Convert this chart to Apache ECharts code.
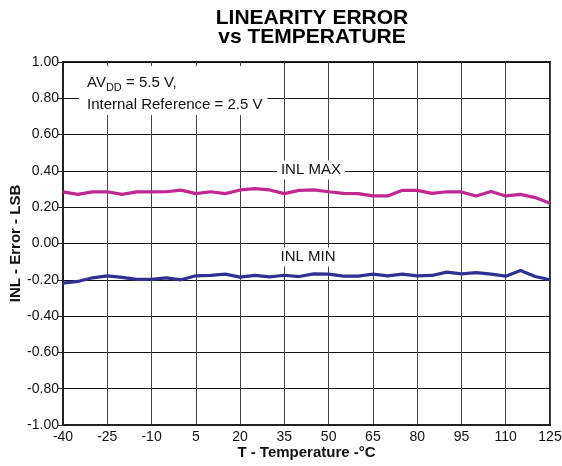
<!DOCTYPE html>
<html><head><meta charset="utf-8">
<script src="https://cdn.jsdelivr.net/npm/echarts@6/dist/echarts.min.js"></script>
<style>html,body{margin:0;padding:0;background:#fff}#c{width:562px;height:466px}</style>
</head><body><div id="c"></div>
<script>
const temps = [-40,-35,-30,-25,-20,-15,-10,-5,0,5,10,15,20,25,30,35,40,45,50,55,60,65,70,75,80,85,90,95,100,105,110,115,120,125];
const inlMax = [0.284,0.271,0.284,0.285,0.271,0.284,0.284,0.285,0.294,0.275,0.285,0.275,0.295,0.302,0.295,0.275,0.293,0.295,0.285,0.276,0.275,0.262,0.262,0.293,0.293,0.276,0.285,0.284,0.262,0.287,0.262,0.271,0.253,0.222];
const inlMin = [-0.218,-0.209,-0.189,-0.178,-0.187,-0.198,-0.198,-0.189,-0.200,-0.178,-0.176,-0.169,-0.185,-0.176,-0.184,-0.175,-0.182,-0.167,-0.169,-0.180,-0.180,-0.169,-0.178,-0.169,-0.178,-0.176,-0.158,-0.167,-0.160,-0.169,-0.180,-0.149,-0.182,-0.200];
const titleLines = ['LINEARITY ERROR', 'vs TEMPERATURE'];
const xName = 'T - Temperature -°C';
const yName = 'INL - Error - LSB';
const FONT = '"Liberation Sans", Arial, Helvetica, sans-serif';

const chart = echarts.init(document.getElementById('c'), null, {renderer: 'canvas'});
const pairs = (ys) => temps.map((t, i) => [t, ys[i]]);
const fmtY = (v) => (Math.abs(v) < 1e-9 ? 0 : v).toFixed(2);

chart.setOption({
  animation: false,
  backgroundColor: '#fff',
  textStyle: {fontFamily: FONT},
  grid: {left: 63, right: 12, top: 62, bottom: 41, containLabel: false, outerBoundsMode: 'none',
    show: true, borderColor: '#222', borderWidth: 2},
  xAxis: {
    type: 'value', min: -40, max: 125, interval: 15,
    name: xName, nameLocation: 'middle', nameGap: 20, nameMoveOverlap: false,
    nameTextStyle: {fontFamily: FONT, fontSize: 15, fontWeight: 'bold', color: '#111'},
    axisLine: {show: true, onZero: false, lineStyle: {color: '#222', width: 2}},
    axisTick: {show: false},
    axisLabel: {fontFamily: FONT, fontSize: 14, color: '#111', margin: 5},
    splitLine: {show: true, lineStyle: {color: '#444', width: 1}}
  },
  yAxis: {
    type: 'value', min: -1, max: 1, interval: 0.2,
    name: yName, nameLocation: 'middle', nameGap: 40, nameMoveOverlap: false,
    nameTextStyle: {fontFamily: FONT, fontSize: 15, fontWeight: 'bold', color: '#111'},
    axisLine: {show: true, onZero: false, lineStyle: {color: '#222', width: 2}},
    axisTick: {show: true, length: 5, lineStyle: {color: '#222', width: 1}},
    axisLabel: {fontFamily: FONT, fontSize: 14, color: '#111', margin: 4, formatter: fmtY},
    splitLine: {show: true, lineStyle: {color: '#111', width: 1}}
  },
  graphic: [
    {
      type: 'text', x: 312, y: 9, z: 100,
      style: {text: titleLines.join('\n'), textAlign: 'center', textVerticalAlign: 'top',
        font: 'bold 21px ' + FONT, lineHeight: 19, fill: '#000'}
    },
    {
      type: 'text', x: 79, y: 66, z: 100,
      style: {
        text: '{a|AV}{s|DD}{a| = 5.5 V,}\n{a|Internal Reference = 2.5 V}',
        backgroundColor: '#fff', padding: [2, 5, 3, 8],
        rich: {
          a: {fontFamily: FONT, fontSize: 15, fill: '#111', lineHeight: 22, verticalAlign: 'bottom'},
          s: {fontFamily: FONT, fontSize: 11, fill: '#111', lineHeight: 22, verticalAlign: 'bottom', padding: [0,0,-3,0]}
        }
      }
    }
  ],
  series: [
    {
      name: 'INL MAX', type: 'line', data: pairs(inlMax), showSymbol: false, symbol: 'none',
      lineStyle: {color: '#c0278f', width: 3.2}, itemStyle: {color: '#c0278f'}, z: 5,
      markPoint: {
        symbol: 'rect', symbolSize: 1, itemStyle: {color: 'rgba(0,0,0,0)'},
        label: {show: true, position: 'inside', formatter: 'INL MAX', fontFamily: FONT, fontSize: 15,
          color: '#111', backgroundColor: '#fff', padding: [2, 4]},
        data: [{coord: [44, 0.405]}]
      }
    },
    {
      name: 'INL MIN', type: 'line', data: pairs(inlMin), showSymbol: false, symbol: 'none',
      lineStyle: {color: '#2e3192', width: 3.2}, itemStyle: {color: '#2e3192'}, z: 5,
      markPoint: {
        symbol: 'rect', symbolSize: 1, itemStyle: {color: 'rgba(0,0,0,0)'},
        label: {show: true, position: 'inside', formatter: 'INL MIN', fontFamily: FONT, fontSize: 15,
          color: '#111', backgroundColor: '#fff', padding: [2, 4]},
        data: [{coord: [43, -0.074]}]
      }
    }
  ]
});
</script></body></html>
